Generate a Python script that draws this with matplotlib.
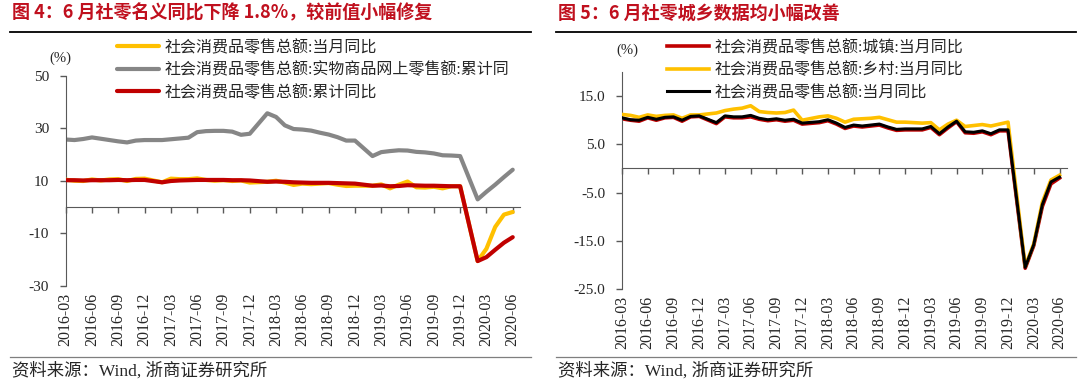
import matplotlib
matplotlib.use('Agg')
import matplotlib.pyplot as plt
from matplotlib.lines import Line2D

plt.rcParams['font.family'] = ['Noto Sans CJK SC', 'DejaVu Sans']

# ---------------- data ----------------
dates = ['2016-03', '2016-04', '2016-05', '2016-06', '2016-07', '2016-08', '2016-09', '2016-10', '2016-11', '2016-12',
         '2017-02', '2017-03', '2017-04', '2017-05', '2017-06', '2017-07', '2017-08', '2017-09', '2017-10', '2017-11', '2017-12',
         '2018-02', '2018-03', '2018-04', '2018-05', '2018-06', '2018-07', '2018-08', '2018-09', '2018-10', '2018-11', '2018-12',
         '2019-02', '2019-03', '2019-04', '2019-05', '2019-06', '2019-07', '2019-08', '2019-09', '2019-10', '2019-11', '2019-12',
         '2020-02', '2020-03', '2020-04', '2020-05', '2020-06']

tick_labels = ['2016-03', '2016-06', '2016-09', '2016-12', '2017-03', '2017-06', '2017-09', '2017-12',
               '2018-03', '2018-06', '2018-09', '2018-12', '2019-03', '2019-06', '2019-09', '2019-12',
               '2020-03', '2020-06']

# Chart 4
retail_monthly = [10.5, 10.1, 10.0, 10.6, 10.2, 10.6, 10.7, 10.0, 10.8, 10.9,
                  9.5, 10.9, 10.7, 10.7, 11.0, 10.4, 10.1, 10.3, 10.0, 10.2, 9.4,
                  9.7, 10.1, 9.4, 8.5, 9.0, 8.8, 9.0, 9.2, 8.6, 8.1, 8.2,
                  8.2, 8.7, 7.2, 8.6, 9.8, 7.6, 7.5, 7.8, 7.2, 8.0, 8.0,
                  -20.5, -15.8, -7.5, -2.8, -1.8]
online_cum = [25.8, 25.6, 26.0, 26.6, 26.1, 25.6, 25.1, 24.7, 25.4, 25.6,
              25.6, 25.9, 26.2, 26.5, 28.6, 29.0, 29.1, 29.1, 28.8, 27.6, 28.0,
              35.8, 34.4, 31.2, 29.8, 29.6, 29.2, 28.4, 27.7, 26.7, 25.4, 25.4,
              19.5, 21.0, 21.4, 21.7, 21.6, 21.1, 20.9, 20.5, 19.8, 19.7, 19.5,
              3.0, 5.9, 8.6, 11.5, 14.3]
retail_cum = [10.3, 10.3, 10.2, 10.3, 10.3, 10.3, 10.4, 10.3, 10.4, 10.4,
              9.5, 10.0, 10.2, 10.3, 10.4, 10.4, 10.4, 10.4, 10.3, 10.3, 10.2,
              9.7, 9.8, 9.7, 9.5, 9.4, 9.3, 9.3, 9.3, 9.2, 9.1, 9.0,
              8.2, 8.3, 8.0, 8.1, 8.4, 8.3, 8.2, 8.2, 8.1, 8.0, 8.0,
              -20.5, -19.0, -16.2, -13.5, -11.4]

# Chart 5
urban_monthly = [10.3, 10.0, 9.8, 10.5, 10.0, 10.5, 10.6, 9.8, 10.7, 10.8,
                 9.3, 10.7, 10.5, 10.5, 10.7, 10.2, 9.9, 10.1, 9.8, 10.0, 9.2,
                 9.5, 9.9, 9.2, 8.3, 8.8, 8.6, 8.8, 9.0, 8.4, 7.9, 8.0,
                 8.0, 8.5, 7.0, 8.4, 9.7, 7.4, 7.3, 7.6, 7.0, 7.8, 7.8,
                 -20.7, -16.0, -7.9, -3.2, -2.0]
rural_monthly = [11.2, 11.0, 10.6, 11.1, 10.8, 11.0, 11.1, 10.4, 11.1, 11.1,
                 11.5, 12.0, 12.3, 12.5, 13.0, 11.8, 11.6, 11.5, 11.6, 12.1, 10.0,
                 10.7, 10.9, 10.4, 9.6, 10.2, 10.3, 10.4, 10.6, 10.1, 9.6, 9.6,
                 9.4, 9.5, 8.0, 9.2, 10.0, 8.7, 8.9, 9.1, 8.8, 9.2, 9.6,
                 -20.3, -15.6, -7.0, -2.4, -1.4]
total_monthly = retail_monthly

labels4 = ['社会消费品零售总额:当月同比', '社会消费品零售总额:实物商品网上零售额:累计同', '社会消费品零售总额:累计同比']
labels5 = ['社会消费品零售总额:城镇:当月同比', '社会消费品零售总额:乡村:当月同比', '社会消费品零售总额:当月同比']
title4 = '图 4：6 月社零名义同比下降 1.8%，较前值小幅修复'
title5 = '图 5：6 月社零城乡数据均小幅改善'
source = '资料来源：Wind, 浙商证券研究所'


def month_index(s):
    y, m = s.split('-')
    return (int(y) - 2016) * 12 + int(m) - 3


x = [month_index(d) for d in dates]
xt = [month_index(t) for t in tick_labels]

# ---------------- figure ----------------
W, H = 1080, 386
fig = plt.figure(figsize=(W / 100, H / 100), dpi=100)


def fx(px):
    return px / W


def fy(py):
    return 1 - py / H


SERIF = ['Liberation Serif', 'Noto Sans CJK SC']
AXC = '#595959'
TXT = '#262626'
YEL = '#FFC000'
GRY = '#868686'
RED = '#C00000'


def style_axes(ax, yticks, ylabels, xmax):
    ax.set_xlim(0, xmax)
    for s in ('top', 'right'):
        ax.spines[s].set_visible(False)
    ax.spines['left'].set_color(AXC)
    ax.spines['bottom'].set_color(AXC)
    ax.spines['bottom'].set_position(('data', 0))
    ax.set_yticks(yticks)
    ax.set_yticklabels(ylabels, fontfamily=SERIF, fontsize=11, color=TXT)
    ax.tick_params(axis='y', direction='out', length=4, color=AXC, width=1, pad=8)
    ax.set_xticks(xt)
    ax.tick_params(axis='x', direction='out', length=4, color=AXC, width=1, labelbottom=False)
    sec = ax.secondary_xaxis('bottom')
    sec.set_xticks(xt, labels=tick_labels, fontfamily=SERIF, fontsize=11.5, color=TXT, rotation=90)
    sec.tick_params(length=0, pad=5)
    sec.spines['bottom'].set_visible(False)
    ax.patch.set_alpha(0)


LEG = dict(loc='upper left', bbox_transform=fig.transFigure, frameon=False, handlelength=2.6,
           handletextpad=0.35, labelspacing=0.4, borderaxespad=0, borderpad=0,
           prop={'family': SERIF, 'size': 11.5}, labelcolor=TXT)

# ---- Chart 4 ----
axL = fig.add_axes([fx(65.7), fy(286), fx(520 - 65.7), (286 - 76) / H])
axL.set_ylim(-30, 50)
lg, = axL.plot(x, online_cum, color=GRY, lw=3.0, solid_joinstyle='round', solid_capstyle='round', zorder=2)
ly, = axL.plot(x, retail_monthly, color=YEL, lw=3.0, solid_joinstyle='round', solid_capstyle='round', zorder=3)
lr, = axL.plot(x, retail_cum, color=RED, lw=3.0, solid_joinstyle='round', solid_capstyle='round', zorder=4)
style_axes(axL, [-30, -10, 10, 30, 50], ['-30', '-10', '10', '30', '50'], 51.83)
axL.legend([ly, lg, lr], labels4, bbox_to_anchor=(fx(117), fy(40)), **LEG)
fig.text(fx(60), fy(58), '(%)', fontfamily=SERIF, fontsize=10.5, color=TXT, ha='center', va='center')

# ---- Chart 5 ----
axR = fig.add_axes([fx(622), fy(289), fx(1066.8 - 622), (289 - 72) / H])
axR.set_ylim(-25, 20)
r1, = axR.plot(x, urban_monthly, color=RED, lw=2.6, solid_joinstyle='round', zorder=2)
r2, = axR.plot(x, rural_monthly, color=YEL, lw=2.6, solid_joinstyle='round', zorder=3)
r3, = axR.plot(x, total_monthly, color='black', lw=2.2, solid_joinstyle='round', zorder=4)
style_axes(axR, [-25, -15, -5, 5, 15], ['-25.0', '-15.0', '-5.0', '5.0', '15.0'], 51.85)
axR.legend([r1, r2, r3], labels5, bbox_to_anchor=(fx(667), fy(40)), **LEG)
fig.text(fx(627), fy(50), '(%)', fontfamily=SERIF, fontsize=10.5, color=TXT, ha='center', va='center')

# ---- titles, rules, sources ----
for x0, x1, ttl in ((10, 531, title4), (556, 1076, title5)):
    fig.text(fx(x0 + 2), fy(13), ttl, fontsize=13, fontweight='bold', color='#C0101E',
             ha='left', va='center', family=['Noto Sans CJK SC', 'DejaVu Sans'])
    fig.add_artist(Line2D([fx(x0), fx(x1)], [fy(31.5), fy(31.5)], color='black', lw=1.3))
    fig.add_artist(Line2D([fx(x0), fx(x1)], [fy(357), fy(357)], color='#7F7F7F', lw=0.9))
    fig.text(fx(x0 + 2), fy(371), source, fontfamily=SERIF, fontsize=12.5, color=TXT,
             ha='left', va='center')

fig.savefig('out.png', dpi=100)
